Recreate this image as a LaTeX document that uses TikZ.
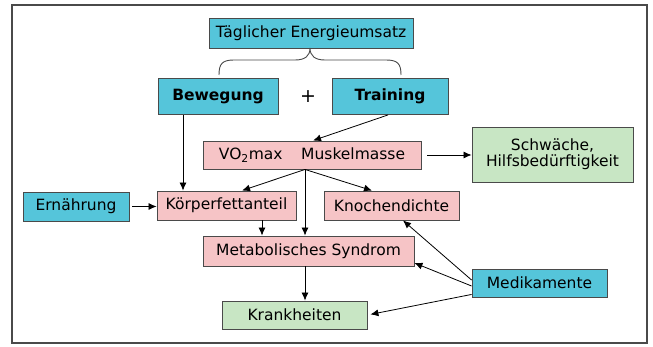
\documentclass[tikz,border=0pt]{standalone}
\usepackage{fontspec}
\setmainfont{DejaVu Sans}
\usetikzlibrary{arrows.meta,calc}
\definecolor{cbox}{HTML}{55C5DA}
\definecolor{pbox}{HTML}{F6C4C6}
\definecolor{gbox}{HTML}{C8E6C4}
\definecolor{edge}{HTML}{4A4A4A}
\tikzset{
  box/.style={draw=edge, line width=0.9pt, inner sep=0pt, align=center, font=\fontsize{15.5}{18}\selectfont},
  cyanbox/.style={box, fill=cbox},
  pinkbox/.style={box, fill=pbox},
  greenbox/.style={box, fill=gbox},
  arr/.style={line width=0.8pt, -{Latex[length=8pt,width=7pt]}}
}
\begin{document}
\begin{tikzpicture}[x=1pt,y=-1pt]
\useasboundingbox (0,0) rectangle (653,347);
\draw[line width=1.2pt, edge] (12,5) rectangle (647,343);

\node[cyanbox, minimum width=204pt, minimum height=30pt] (tag) at (311,33) {Täglicher Energieumsatz};
\node[cyanbox, minimum width=120pt, minimum height=36pt, font=\fontsize{15.5}{18}\selectfont\bfseries] (bew) at (218,96.5) {Bewegung};
\node[cyanbox, minimum width=116pt, minimum height=36pt, font=\fontsize{15.5}{18}\selectfont\bfseries] (train) at (390,96.5) {Training};
\node[font=\fontsize{19}{20}\selectfont] (plus) at (308,97) {+};
\node[pinkbox, minimum width=218pt, minimum height=28pt] (vo) at (312,155) {VO\textsubscript{2}max\hspace{1.2em}Muskelmasse};
\node[greenbox, minimum width=161pt, minimum height=55pt] (schw) at (552.5,154.5) {Schwäche,\\[-2pt]Hilfsbedürftigkeit};
\node[pinkbox, minimum width=139pt, minimum height=29pt] (koerp) at (226.5,205.5) {Körperfettanteil};
\node[pinkbox, minimum width=135pt, minimum height=29pt] (knoch) at (391.5,205.5) {Knochendichte};
\node[cyanbox, minimum width=106pt, minimum height=29pt] (ern) at (76,206.5) {Ernährung};
\node[pinkbox, minimum width=211pt, minimum height=30pt] (meta) at (308.5,251) {Metabolisches Syndrom};
\node[greenbox, minimum width=145pt, minimum height=28pt] (krank) at (294.5,315) {Krankheiten};
\node[cyanbox, minimum width=135pt, minimum height=28pt] (medi) at (539.5,283) {Medikamente};

% brace
\draw[line width=0.9pt, edge] (219,75) .. controls (219,64) and (222,60) .. (234,60) -- (295,60)
  .. controls (305,60) and (310,56) .. (310,48)
  .. controls (310,56) and (315,60) .. (325,60) -- (386,60)
  .. controls (398,60) and (401,64) .. (401,75);

\coordinate (vb) at ([xshift=-7pt]vo.south);
\draw[arr] ([xshift=-35pt]bew.south) -- ([xshift=-35pt]bew.south |- koerp.north);
\draw[arr] ([xshift=-2pt]train.south) -- ([xshift=1pt]vo.north);
\draw[arr, shorten <=6pt] (vo.east) -- (vo.east -| schw.west);
\draw[arr] (vb) -- ([xshift=15.5pt]koerp.north);
\draw[arr] (vb) -- ([xshift=-19.5pt]knoch.north);
\draw[arr] (vb) -- (vb |- meta.north);
\draw[arr] ([xshift=35.5pt]koerp.south) -- ([xshift=35.5pt]koerp.south |- meta.north);
\draw[arr, shorten <=3pt] (ern.east) -- (ern.east -| koerp.west);
\draw[arr] (meta.south -| vb) -- (vb |- krank.north);
\draw[arr] ([yshift=3pt]medi.west) -- ([xshift=11.5pt]knoch.south);
\draw[arr] ([yshift=-3pt]medi.west) -- ([yshift=-12pt]meta.east);
\draw[arr, shorten >=3pt] ([yshift=3pt]medi.south west) -- (krank.east);
\end{tikzpicture}
\end{document}
